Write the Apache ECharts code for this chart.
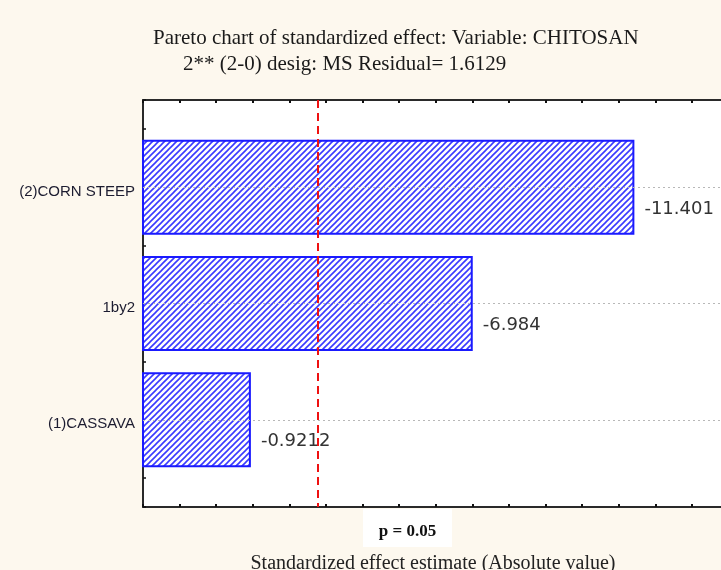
<!DOCTYPE html>
<html>
<head>
<meta charset="utf-8">
<title>Pareto chart of standardized effect</title>
<script src="https://cdn.jsdelivr.net/npm/echarts@6/dist/echarts.min.js"></script>
<style>
  html, body { margin: 0; padding: 0; background: #fdf8ee; }
  #chart { width: 721px; height: 570px; }
</style>
</head>
<body>
<div id="chart"></div>
<script>
// Effects in Pareto order (largest absolute effect first)
const categories = ['(2)CORN STEEP', '1by2', '(1)CASSAVA'];
const effects = [-11.401, -6.984, -0.9212];

// Critical t value for p = 0.05 (red reference line)
const criticalT = 2.776;
const criticalLabel = 'p = 0.05';

const titleLine1 = 'Pareto chart of standardized effect: Variable: CHITOSAN';
const titleLine2 = '2** (2-0) desig: MS Residual= 1.6129';
const xAxisTitle = 'Standardized effect estimate (Absolute value)';

// Axis ranges
const X_MIN = -2;
const X_MAX = 13.85;
const Y_MIN = 0.25;
const Y_MAX = 3.75;
const BAR_HALF = 0.4;

// Diagonal hatch tile for the bars
function hatchPattern() {
  const s = 6;
  const c = document.createElement('canvas');
  c.width = s; c.height = s;
  const g = c.getContext('2d');
  g.fillStyle = '#ffffff';
  g.fillRect(0, 0, s, s);
  g.strokeStyle = '#3a3aff';
  g.lineWidth = 1.6;
  g.beginPath();
  g.moveTo(-1, s + 1); g.lineTo(s + 1, -1);
  g.moveTo(-1, 1); g.lineTo(1, -1);
  g.moveTo(s - 1, s + 1); g.lineTo(s + 1, s - 1);
  g.stroke();
  return { image: c, repeat: 'repeat' };
}
const hatch = hatchPattern();

const barData = categories.map((name, i) => [Math.abs(effects[i]), i + 1, effects[i]]);
const catPositions = categories.map((name, i) => i + 1);

const chart = echarts.init(document.getElementById('chart'), null, { renderer: 'canvas' });

const serifTitle = { fontFamily: 'Liberation Serif', fontSize: 21, fontWeight: 'normal', color: '#1a1a1a' };

const option = {
  backgroundColor: '#fdf8ee',
  animation: false,
  title: [
    { text: titleLine1, left: 153, top: 28, padding: 0, textStyle: serifTitle },
    { text: titleLine2, left: 183, top: 54, padding: 0, textStyle: serifTitle }
  ],
  grid: {
    left: 143, top: 100, width: 580, height: 407,
    containLabel: false, outerBoundsMode: 'none',
    show: true, backgroundColor: '#ffffff', borderWidth: 0
  },
  xAxis: [
    {
      type: 'value', position: 'bottom',
      min: X_MIN, max: X_MAX, interval: 1,
      name: xAxisTitle, nameLocation: 'middle', nameGap: 47,
      nameTextStyle: { fontFamily: 'Liberation Serif', fontSize: 20, color: '#222', verticalAlign: 'top' },
      axisLine: { show: true, onZero: false, lineStyle: { color: '#2a2a2a', width: 2 } },
      axisTick: { show: true, inside: true, length: 3, lineStyle: { color: '#111', width: 2 } },
      axisLabel: { show: false },
      splitLine: { show: false }
    },
    {
      type: 'value', position: 'top',
      min: X_MIN, max: X_MAX, interval: 1,
      axisLine: { show: true, onZero: false, lineStyle: { color: '#2a2a2a', width: 2 } },
      axisTick: { show: true, inside: true, length: 3, lineStyle: { color: '#111', width: 2 } },
      axisLabel: { show: false },
      splitLine: { show: false }
    }
  ],
  yAxis: {
    type: 'value', inverse: true,
    min: Y_MIN, max: Y_MAX, interval: 0.25,
    axisLine: { show: true, onZero: false, lineStyle: { color: '#2a2a2a', width: 2 } },
    axisTick: { show: true, inside: true, length: 3, lineStyle: { color: '#111', width: 1.5 } },
    axisLabel: {
      show: true,
      customValues: catPositions,
      margin: 8,
      verticalAlign: 'top',
      lineHeight: 9,
      fontFamily: 'Liberation Sans', fontSize: 15, color: '#1c1c30',
      formatter: v => categories[Math.round(v) - 1]
    },
    splitLine: { show: false }
  },
  series: [
    {
      // dotted guide lines through each effect row
      type: 'line', data: [], z: 1, silent: true,
      markLine: {
        silent: true, symbol: 'none', animation: false,
        label: { show: false },
        lineStyle: { color: '#b8b8b8', type: [2, 3], width: 1 },
        data: catPositions.map(p => ({ yAxis: p }))
      }
    },
    {
      type: 'custom', z: 3,
      data: barData,
      renderItem: function (params, api) {
        const v = api.value(0);
        const cat = api.value(1);
        const eff = api.value(2);
        const p0 = api.coord([X_MIN, cat - BAR_HALF]);
        const p1 = api.coord([v, cat + BAR_HALF]);
        const mid = api.coord([v, cat]);
        const x = p0[0], y = Math.min(p0[1], p1[1]);
        const w = p1[0] - p0[0], h = Math.abs(p1[1] - p0[1]);
        return {
          type: 'group',
          children: [
            {
              type: 'rect',
              shape: { x: x, y: y, width: w, height: h },
              style: { fill: hatch, stroke: '#1a1aff', lineWidth: 2 }
            },
            {
              type: 'text',
              x: mid[0] + 11, y: mid[1] + 22,
              style: {
                text: String(eff),
                fontFamily: 'DejaVu Sans', fontSize: 18,
                fill: '#333333', align: 'left', verticalAlign: 'middle'
              }
            }
          ]
        };
      }
    },
    {
      // p = 0.05 significance threshold
      type: 'line', data: [], z: 5, silent: true,
      markLine: {
        silent: true, symbol: 'none', animation: false,
        label: { show: false },
        lineStyle: { color: '#ee1111', type: [8, 5], width: 2 },
        data: [{ xAxis: criticalT }]
      }
    }
  ],
  graphic: [
    {
      type: 'rect', left: 363, top: 509, z: 10,
      shape: { width: 89, height: 38 },
      style: { fill: '#ffffff' }
    },
    {
      type: 'text', x: 407.5, y: 532, z: 11,
      style: {
        text: criticalLabel, align: 'center', verticalAlign: 'middle',
        fontFamily: 'Liberation Serif', fontSize: 17, fontWeight: 'bold', fill: '#111'
      }
    }
  ]
};

chart.setOption(option);
</script>
</body>
</html>
